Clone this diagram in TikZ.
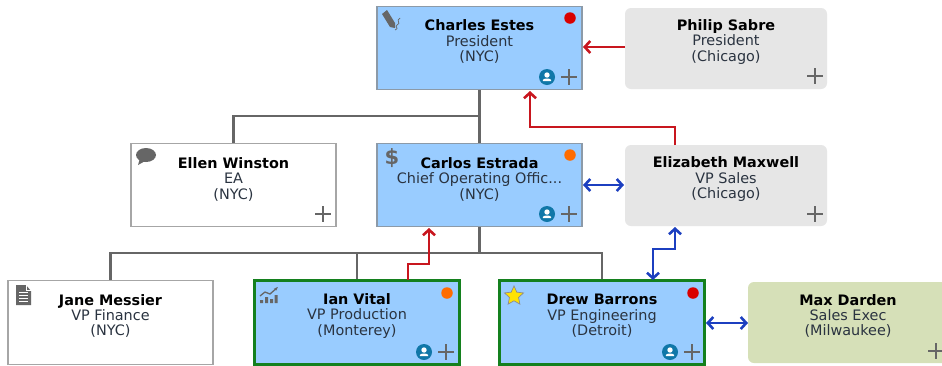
\documentclass[tikz,border=0pt]{standalone}
\usepackage{fontspec}
\setmainfont{DejaVu Sans}
\usetikzlibrary{arrows.meta,shapes.geometric}
\definecolor{bluefill}{HTML}{99CCFF}
\definecolor{edge}{HTML}{8C9AA8}
\definecolor{greyfill}{HTML}{E6E6E6}
\definecolor{olivefill}{HTML}{D6E0B8}
\definecolor{linegrey}{HTML}{666666}
\definecolor{iconH}{HTML}{666666}
\definecolor{redline}{HTML}{C8161E}
\definecolor{blueline}{HTML}{1C3FC0}
\definecolor{greenline}{HTML}{14801E}
\definecolor{badge}{HTML}{1077A8}
\definecolor{subtext}{HTML}{2A3340}
\newcommand{\person}[3]{{\color{black}\textbf{#1}}\\#2\\#3}
\tikzset{
 x=1pt,y=-1pt,
 boxbase/.style={rectangle,inner sep=0pt,minimum width=#1,minimum height=83.5pt},
 bluebox/.style={boxbase=205pt,fill=bluefill,draw=edge,line width=1.2pt},
 whitebox/.style={boxbase=205pt,fill=white,draw=black!35,line width=1.2pt},
 vpbox/.style={boxbase=205pt,fill=bluefill,draw=greenline,line width=2.6pt},
 greybox/.style={boxbase=202pt,fill=greyfill,rounded corners=6pt,minimum height=81pt},
 olivebox/.style={boxbase=202pt,fill=olivefill,rounded corners=6pt,minimum height=81pt},
 lbl/.style={align=center,font=\fontsize{14.4}{15.4}\selectfont,text=subtext,inner sep=0pt},
 tree/.style={draw=linegrey,line width=2.6pt},
 redarrow/.style={draw=redline,line width=2.5pt,-{Straight Barb[length=5.5pt,width=12pt,line width=2.6pt]}},
 bluearrow/.style={draw=blueline,line width=2.5pt,{Straight Barb[length=5.5pt,width=12pt,line width=2.6pt]}-{Straight Barb[length=5.5pt,width=12pt,line width=2.6pt]}},
 dotmark/.style={circle,inner sep=0pt,minimum size=11.5pt},
 badgemark/.pic={
  \fill[badge] (0,0) circle (8pt);
  \fill[white] (0,-2) circle (2.7pt);
  \fill[white] (-4.2,4.2) -- (-4.2,3) .. controls (-3.5,1) and (3.5,1) .. (4.2,3) -- (4.2,4.2) -- cycle;
 },
 plusmark/.pic={
  \draw[linegrey,line width=2.4pt] (-8,0) -- (8,0) (0,-8) -- (0,8);
 },
}
\begin{document}
\begin{tikzpicture}
\clip (0,0) rectangle (942,365);
\fill[white] (0,0) rectangle (942,365);

% boxes
\node[bluebox] (charles) at (479.5,48) {};
\node[greybox] (philip) at (726,48.5) {};
\node[whitebox] (ellen) at (233.5,185) {};
\node[bluebox] (carlos) at (479.5,185) {};
\node[greybox] (eliz) at (726,185.5) {};
\node[whitebox] (jane) at (110.5,322.5) {};
\node[vpbox] (ian) at (357,322.5) {};
\node[vpbox] (drew) at (602,322.5) {};
\node[olivebox] (max) at (849,322.5) {};

% text
\node[lbl] (charlest) at (479.5,41.7) {\person{Charles Estes}{President}{(NYC)}};
\node[lbl] (philipt) at (726,41.7) {\person{Philip Sabre}{President}{(Chicago)}};
\node[lbl] (ellent) at (233.5,179.2) {\person{Ellen Winston}{EA}{(NYC)}};
\node[lbl] (carlost) at (479.5,179.2) {\person{Carlos Estrada}{Chief Operating Offic...}{(NYC)}};
\node[lbl] (elizt) at (726,179.2) {\person{Elizabeth Maxwell}{VP Sales}{(Chicago)}};
\node[lbl] (janet) at (110.5,316) {\person{Jane Messier}{VP Finance}{(NYC)}};
\node[lbl] (iant) at (357,316) {\person{Ian Vital}{VP Production}{(Monterey)}};
\node[lbl] (drewt) at (602,316) {\person{Drew Barrons}{VP Engineering}{(Detroit)}};
\node[lbl] (maxt) at (848,316) {\person{Max Darden}{Sales Exec}{(Milwaukee)}};

% tree connectors
\coordinate (busA) at (479.5,116);
\coordinate (busB) at (479.5,253);
\draw[tree] (charles.south) -- (carlos.north);
\draw[tree] (busA) -| (ellen.north);
\draw[tree] (carlos.south) -- (busB);
\draw[tree] (jane.north) |- (busB);
\draw[tree] (drew.north) |- (busB);
\draw[tree] (ian.north) -- (ian.north |- busB);

% red connectors
\coordinate (ianOut) at (408,280);
\coordinate (ianMid) at (408,264);
\coordinate (carIn) at (429,228);
\coordinate (elOut) at (675,145);
\coordinate (chIn) at (530,91);
\coordinate (chR) at (583,47);
\coordinate (phL) at (625,47);
\draw[redarrow] (phL) -- (chR);
\draw[redarrow] (elOut) |- (530,127) -- (chIn);
\draw[redarrow] (ianOut) -- (ianMid) -| (carIn);

% blue connectors
\coordinate (carR) at (583,185);
\coordinate (elL) at (624,185);
\coordinate (drT) at (653,280);
\coordinate (elB) at (675,227);
\coordinate (drR) at (706,323);
\coordinate (mxL) at (748,323);
\draw[bluearrow] (carR) -- (elL);
\draw[bluearrow] (drT) |- (675,249) -- (elB);
\draw[bluearrow] (drR) -- (mxL);

% status dots
\node[dotmark,fill=red!85!black] (dotA) at (570,18) {};
\node[dotmark,fill=orange!85!red] (dotB) at (570,155) {};
\node[dotmark,fill=orange!85!red] (dotC) at (447,293) {};
\node[dotmark,fill=red!85!black] (dotD) at (693,293) {};

% badges and plus marks
\pic at (547,77) {badgemark};  \pic at (569,77) {plusmark};
\pic at (547,214) {badgemark}; \pic at (569,214) {plusmark};
\pic at (424,352) {badgemark}; \pic at (446,352) {plusmark};
\pic at (670,352) {badgemark}; \pic at (692,352) {plusmark};
\pic at (815,76) {plusmark};
\pic at (323,214) {plusmark};
\pic at (815,214) {plusmark};
\pic at (936,351) {plusmark};

% pen icon
\fill[iconH] (382,14) -- (387,10) -- (395,23) -- (395,28) -- (390,27) -- cycle;
\draw[iconH,line width=.7pt] (400,18) .. controls (395,21) and (402,23) .. (397,25) .. controls (394,27) and (400,28) .. (395,30);

% speech icon
\fill[iconH] (146,155) ellipse (10pt and 7pt);
\fill[iconH] (140,158) -- (138,165) -- (147,160) -- cycle;

% dollar icon
\node[inner sep=0pt,text=iconH,font=\bfseries\fontsize{21}{21}\selectfont] (dollar) at (392,158) {\$};

% document icon
\fill[iconH] (16,285) -- (26,285) -- (31,291) -- (31,305) -- (16,305) -- cycle;
\draw[white,line width=.7pt] (19,292) -- (28,292) (19,295) -- (28,295) (19,298) -- (28,298) (19,301) -- (28,301);
\draw[white,line width=.6pt] (26,285) -- (26,290.5) -- (31,290.5);

% chart icon
\fill[iconH] (260,300) rectangle (263,303) (265,297) rectangle (268,303) (270,299) rectangle (273,303) (274.5,295) rectangle (277.5,303);
\draw[iconH,line width=1.3pt,-{Stealth[length=4pt]}] (260,296) -- (265,292) -- (270,294) -- (278,287);

% star icon
\node[star,star points=5,star point ratio=2.1,fill=yellow!85!orange,draw=black!45,line width=.7pt,inner sep=0pt,minimum size=20pt] (starmark) at (514,296) {};
\end{tikzpicture}
\end{document}
